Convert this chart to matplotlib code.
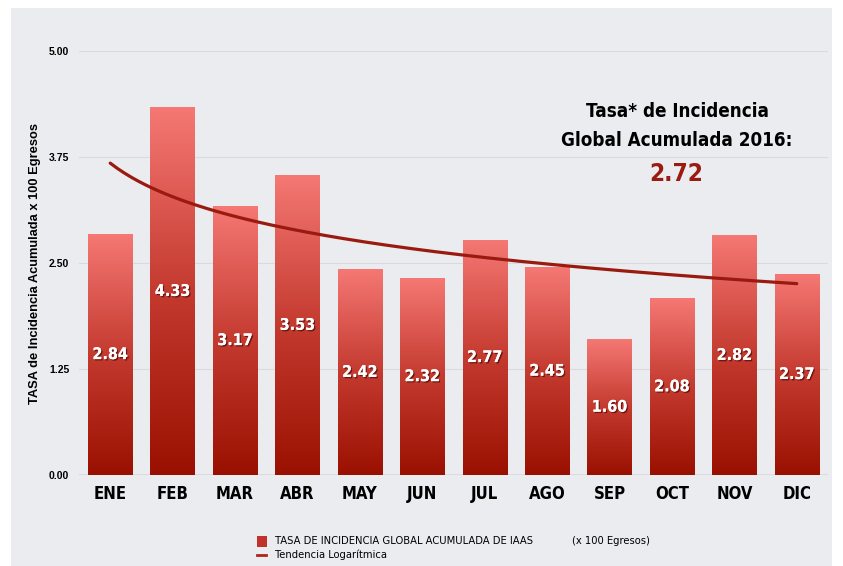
import numpy as np
import matplotlib
matplotlib.use("Agg")
import matplotlib.pyplot as plt
import matplotlib.patheffects as pe
from matplotlib.patches import Rectangle
from matplotlib.lines import Line2D

months = ["ENE", "FEB", "MAR", "ABR", "MAY", "JUN",
          "JUL", "AGO", "SEP", "OCT", "NOV", "DIC"]
rates = [2.84, 4.33, 3.17, 3.53, 2.42, 2.32, 2.77, 2.45, 1.60, 2.08, 2.82, 2.37]
y_ticks = [0.0, 1.25, 2.5, 3.75, 5.0]
global_rate = "2.72"

NARROW = dict(family=["DejaVu Sans"], fontstretch="condensed")
SANS = dict(family=["Liberation Sans", "DejaVu Sans"])

fig = plt.figure(figsize=(8.43, 5.66), dpi=100, facecolor="white")
# slide background panel
fig.patches.append(Rectangle((11 / 843, 0), 1 - 22 / 843, 1 - 8 / 566,
                             transform=fig.transFigure, facecolor="#eaecef",
                             edgecolor="none", zorder=-5))

ax = fig.add_axes([79 / 843, 1 - 475 / 566, 749 / 843, 424 / 566])
ax.set_facecolor("none")
for s in ax.spines.values():
    s.set_visible(False)
ax.axhline(0, color="#9a9a9a", lw=1.0, zorder=1)
for t in y_ticks[1:]:
    ax.axhline(t, color="#d8dadd", lw=0.8, zorder=1)

# gradient bars
grad = np.linspace(0, 1, 256).reshape(-1, 1)
cmap = matplotlib.colors.LinearSegmentedColormap.from_list(
    "bar", ["#9a1000", "#c43a2f", "#f57874"])
x = np.arange(len(months))
width = 0.71
for xi, v in zip(x, rates):
    ax.imshow(grad, cmap=cmap, origin="lower", aspect="auto",
              extent=(xi - width / 2, xi + width / 2, 0, v), zorder=2)
    ax.text(xi, v / 2, f"{v:.2f}", ha="center", va="center", color="white",
            fontsize=11.5, fontweight="bold", zorder=4, **NARROW,
            path_effects=[pe.withSimplePatchShadow(offset=(1, -1),
                                                   shadow_rgbFace="#3a0000",
                                                   alpha=0.6),
                          pe.Normal()])
ax.set_xlim(-0.5, 11.5)
ax.set_ylim(0, 5.0)

# logarithmic trend
coef = np.polyfit(np.log(x + 1), rates, 1)
xs = np.linspace(1, 12, 200)
ax.plot(xs - 1, coef[0] * np.log(xs) + coef[1], color="#9b1a10", lw=2.3,
        zorder=3, solid_capstyle="round")

ax.set_xticks(x)
ax.set_xticklabels(months, fontsize=12, fontweight="bold", **NARROW)
ax.set_yticks(y_ticks)
ax.set_yticklabels([f"{t:.2f}" for t in y_ticks], fontsize=7.5,
                   fontweight="bold", **SANS)
ax.tick_params(axis="x", length=0, pad=7)
ax.tick_params(axis="y", length=0, pad=7)
ax.set_ylabel("TASA de Incidencia Acumulada x 100 Egresos", fontsize=9.3,
              fontweight="bold", labelpad=6, **SANS)

fig.text(677 / 843, 1 - 111 / 566, "Tasa* de Incidencia", ha="center",
         va="center", fontsize=13.5, fontweight="bold", **NARROW)
fig.text(677 / 843, 1 - 141 / 566, "Global Acumulada 2016:", ha="center",
         va="center", fontsize=13.5, fontweight="bold", **NARROW)
fig.text(676 / 843, 1 - 174 / 566, global_rate, ha="center", va="center",
         fontsize=17.5, fontweight="bold", color="#9b1a12", **NARROW)

# legend
fig.patches.append(Rectangle((257 / 843, 1 - 547 / 566), 10 / 843, 11 / 566,
                             transform=fig.transFigure, facecolor="#c0322a",
                             edgecolor="none"))
fig.text(275 / 843, 1 - 541 / 566, "TASA DE INCIDENCIA GLOBAL ACUMULADA DE IAAS",
         va="center", fontsize=8, **NARROW)
fig.text(572 / 843, 1 - 541 / 566, "(x 100 Egresos)", va="center",
         fontsize=8, **NARROW)
fig.lines.append(Line2D([257 / 843, 266 / 843], [1 - 555 / 566] * 2,
                        transform=fig.transFigure, color="#b0231a", lw=2))
fig.text(275 / 843, 1 - 555 / 566, "Tendencia Logarítmica", va="center",
         fontsize=8, **NARROW)

fig.savefig("out.png", dpi=100, facecolor="white")
